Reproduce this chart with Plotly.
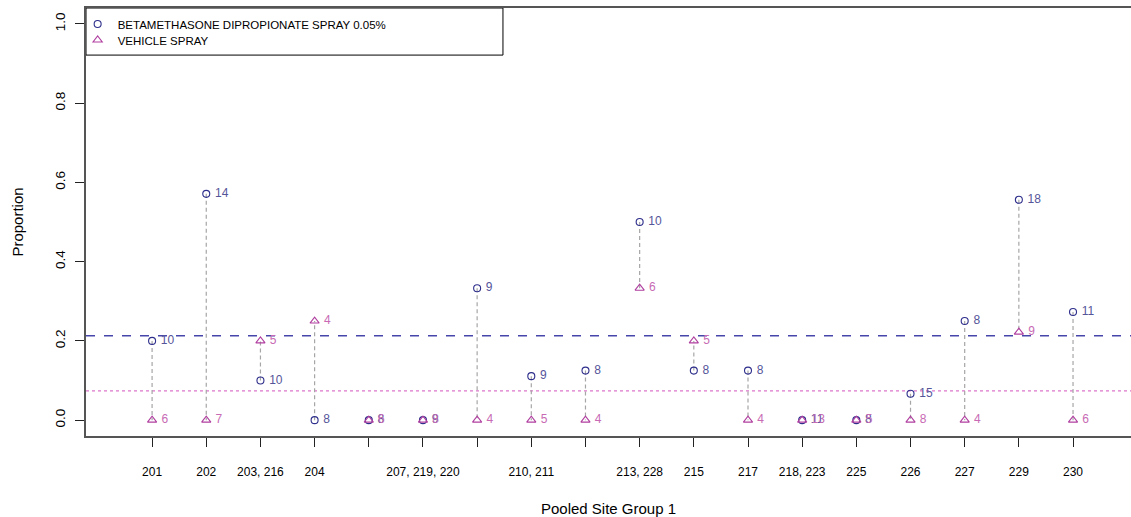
import plotly.graph_objects as go

# ---- data ----
groups = ["201", "202", "203, 216", "204", "", "207, 219, 220", "", "210, 211", "",
          "213, 228", "215", "217", "218, 223", "225", "226", "227", "229", "230"]
active_prop = [0.2, 0.571, 0.1, 0.0, 0.0, 0.0, 0.333, 0.111, 0.125, 0.5,
               0.125, 0.125, 0.0, 0.0, 0.0667, 0.25, 0.556, 0.273]
active_n = [10, 14, 10, 8, 8, 9, 9, 9, 8, 10, 8, 8, 11, 8, 15, 8, 18, 11]
vehicle_prop = [0.0, 0.0, 0.2, 0.25, 0.0, 0.0, 0.0, 0.0, 0.0, 0.333,
                0.2, 0.0, 0.0, 0.0, 0.0, 0.0, 0.222, 0.0]
vehicle_n = [6, 7, 5, 4, 6, 8, 4, 5, 4, 6, 5, 4, 13, 5, 8, 4, 9, 6]
active_overall = 0.213
vehicle_overall = 0.074
y_ticks = [0.0, 0.2, 0.4, 0.6, 0.8, 1.0]
active_name = "BETAMETHASONE DIPROPIONATE SPRAY 0.05%"
vehicle_name = "VEHICLE SPRAY"

FONT = "Liberation Sans, Arial, sans-serif"
pos = list(range(1, len(groups) + 1))

# connectors
cx, cy = [], []
for p, a, v in zip(pos, active_prop, vehicle_prop):
    cx += [p, p, None]
    cy += [a, v, None]

fig = go.Figure()
fig.add_trace(go.Scatter(x=cx, y=cy, mode="lines", showlegend=False, hoverinfo="skip",
                         line=dict(color="#A6A6A6", width=1.2, dash="4px,3px")))
fig.add_trace(go.Scatter(
    x=pos, y=active_prop, mode="markers+text", name=active_name, legend="legend",
    text=["\u00a0" + str(n) for n in active_n], textposition="middle right",
    textfont=dict(family=FONT, size=12, color="#55559A"),
    marker=dict(symbol="circle-open", size=7, color="#2E2E8C", line=dict(width=1.1))))
fig.add_trace(go.Scatter(
    x=pos, y=vehicle_prop, mode="markers+text", name=vehicle_name, legend="legend2",
    text=["\u00a0" + str(n) for n in vehicle_n], textposition="middle right",
    textfont=dict(family=FONT, size=12, color="#C86AB4"),
    marker=dict(symbol="triangle-up-open", size=8, color="#B03FA0", line=dict(width=1.1))))

shapes = [
    dict(type="line", xref="paper", x0=0, x1=1, yref="y", y0=active_overall, y1=active_overall,
         line=dict(color="#4646AA", width=1.3, dash="dash"), layer="below"),
    dict(type="line", xref="paper", x0=0, x1=1, yref="y", y0=vehicle_overall, y1=vehicle_overall,
         line=dict(color="#DD77CC", width=1.3, dash="dot"), layer="below"),
    dict(type="rect", xref="paper", yref="paper", x0=0, x1=0.399, y0=0.890, y1=1.0,
         line=dict(color="#000000", width=1), fillcolor="rgba(255,255,255,1)", layer="below"),
]

legend_common = dict(x=-0.008, xanchor="left", yanchor="middle",
                     bgcolor="rgba(0,0,0,0)", borderwidth=0,
                     font=dict(family=FONT, size=11.5, color="#000000"),
                     itemwidth=30)

fig.update_layout(
    width=1131, height=517,
    margin=dict(l=86, r=0, t=8, b=81),
    paper_bgcolor="white", plot_bgcolor="white",
    font=dict(family=FONT, color="#000000"),
    shapes=shapes,
    legend=dict(legend_common, y=(436 - 24) / 428),
    legend2=dict(legend_common, y=(436 - 40) / 428),
    xaxis=dict(range=[-0.22, 19.07], tickmode="array", tickvals=pos, ticktext=groups,
               showgrid=False, zeroline=False, showline=True, linecolor="#555555", linewidth=1.5,
               mirror=True, ticks="outside", ticklen=9, tickcolor="#222222",
               tickfont=dict(family=FONT, size=12, color="#000000"),
               ticklabelstandoff=15, automargin=False,
               title=dict(text="Pooled Site Group 1", font=dict(family=FONT, size=15), standoff=26)),
    yaxis=dict(range=[-0.04, 1.04], tickmode="array", tickvals=y_ticks,
               ticktext=[f"{t:.1f}" for t in y_ticks], tickangle=-90,
               showgrid=False, zeroline=False, showline=True, linecolor="#555555", linewidth=1.5,
               ticks="outside", ticklen=9, tickcolor="#222222",
               tickfont=dict(family=FONT, size=13.5, color="#000000"),
               ticklabelstandoff=5, automargin=False,
               title=dict(text="Proportion", font=dict(family=FONT, size=15), standoff=26)),
)

fig.write_html("out.html", config={"displayModeBar": False},
               post_script="document.body.style.margin='0';document.body.style.padding='0';")
